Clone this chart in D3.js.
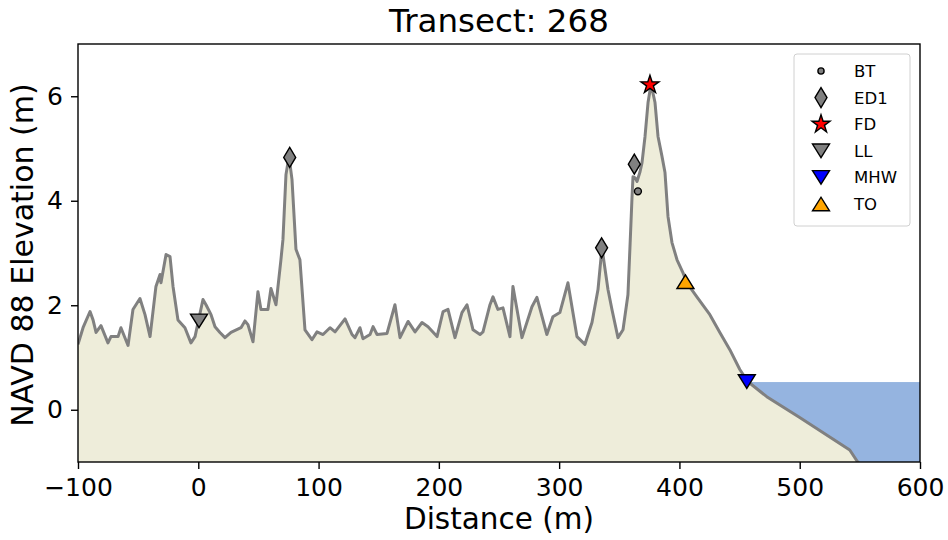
<!DOCTYPE html>
<html><head><meta charset="utf-8">
<script src="https://cdn.jsdelivr.net/npm/d3@7"></script>
<style>body{margin:0;background:#fff;} text{font-family:"DejaVu Sans",sans-serif;}</style>
</head><body><svg id="c" width="948" height="540"></svg>
<script>
const title = "Transect: 268";
const xTicks = [-100, 0, 100, 200, 300, 400, 500, 600];
const yTicks = [0, 2, 4, 6];
const distance = [-100,-95.8,-90,-87.5,-85,-80.9,-75.1,-72.6,-66.7,-64.3,-58.4,-54.3,-48.5,-44.3,-40.1,-35.2,-31.8,-31,-26.8,-23.5,-21,-16.9,-11.1,-6.1,-2.7,3.9,6.4,10.6,13.9,18,22.2,27.2,35.5,38.8,41.3,45.5,49.6,52.1,57.9,60.4,64.6,68.7,70.4,72.9,75.4,77.9,81.2,84.5,88.7,94.5,98.7,103.7,109.5,113.7,122,127.8,130.3,134.4,136.9,142.8,145.3,148.6,156.9,163.5,167.7,174.4,180.2,186,191,198.5,203.5,207.6,213.4,219.2,223.4,228.4,234.2,236.7,242.5,245,249.1,253.3,259.1,261.6,269.1,277.4,281.5,289.8,294.8,300.6,307.3,314.8,321.4,327.3,332.3,335.6,340.6,343.9,348.9,353.1,357.2,358.8,360.5,361.4,363.1,364.8,367.3,368.9,371.4,373.9,376.4,379.7,382.2,385.5,388,390.5,393.8,398,403,406.2,414.5,425.3,433.6,441.9,450.2,456.8,472.6,500,541.6,548.2,600];
const elevation = [1.25,1.57,1.88,1.72,1.48,1.61,1.28,1.4,1.4,1.57,1.23,1.92,2.13,1.82,1.4,2.36,2.59,2.43,2.97,2.93,2.36,1.72,1.57,1.28,1.4,2.11,2.01,1.82,1.59,1.48,1.38,1.48,1.57,1.7,1.63,1.3,2.26,1.92,1.92,2.32,2.01,2.87,3.26,4.5,4.85,4.41,3.07,2.87,1.53,1.34,1.49,1.44,1.57,1.49,1.74,1.44,1.38,1.57,1.36,1.44,1.59,1.44,1.46,2.01,1.38,1.69,1.49,1.67,1.59,1.4,1.88,1.92,1.38,1.86,2.01,1.53,1.44,1.49,2.01,2.16,1.92,1.95,1.4,2.36,1.38,1.97,2.15,1.44,1.78,1.86,2.43,1.4,1.25,1.67,2.3,3.1,2.3,1.92,1.38,1.53,2.2,3.07,4.02,4.46,4.44,4.37,4.56,4.73,5.23,5.88,6.23,5.88,5.23,4.85,4.54,3.7,3.2,2.87,2.62,2.43,2.16,1.82,1.48,1.15,0.77,0.54,0.25,-0.15,-0.77,-1.0,-2.0];
const mhwLevel = 0.53;
const markerNames = ["BT","ED1","FD","LL","MHW","TO"];
const btX = [365.5], btY = [4.18];
const ed1X = [76, 335.3, 362.5], ed1Y = [4.83, 3.1, 4.7];
const fdX = [375.5], fdY = [6.22];
const llX = [0.6], llY = [1.7];
const mhwX = [456], mhwY = [0.54];
const toX = [405], toY = [2.45];

const svg = d3.select("#c");
const m = {l:78, r:920, t:44, b:462};
const x = d3.scaleLinear().domain([-100,600]).range([m.l,m.r]);
const y = d3.scaleLinear().domain([-1,7]).range([m.b,m.t]);
const pts = distance.map((d,i)=>[d,elevation[i]]);

svg.append("clipPath").attr("id","clip").append("rect")
  .attr("x",m.l).attr("y",m.t).attr("width",m.r-m.l).attr("height",m.b-m.t);
const g = svg.append("g").attr("clip-path","url(#clip)");

// water: from the crossing point of the profile with MHW to the right edge
let cross = 600;
for (let i=1;i<pts.length;i++){
  if (pts[i-1][1] >= mhwLevel && pts[i][1] < mhwLevel){
    const t = (pts[i-1][1]-mhwLevel)/(pts[i-1][1]-pts[i][1]);
    cross = pts[i-1][0] + t*(pts[i][0]-pts[i-1][0]); break;
  }
}
g.append("rect").attr("x",x(cross)).attr("y",y(mhwLevel))
  .attr("width",x(600)-x(cross)).attr("height",y(-1)-y(mhwLevel)).attr("fill","#95b4e0");

g.append("path").datum(pts)
  .attr("d", d3.area().x(d=>x(d[0])).y0(y(-1)+5).y1(d=>y(d[1])))
  .attr("fill","#eeedda");
g.append("path").datum(pts)
  .attr("d", d3.line().x(d=>x(d[0])).y(d=>y(d[1])))
  .attr("fill","none").attr("stroke","#808080").attr("stroke-width",3).attr("stroke-linejoin","round");

// axes
const xa = svg.append("g").attr("transform",`translate(0,${m.b})`)
  .call(d3.axisBottom(x).tickValues(xTicks).tickSizeOuter(0).tickSize(7).tickPadding(8).tickFormat(d=>String(d).replace("-","\u2212")));
const ya = svg.append("g").attr("transform",`translate(${m.l},0)`)
  .call(d3.axisLeft(y).tickValues(yTicks).tickSizeOuter(0).tickSize(7).tickPadding(8));
[xa,ya].forEach(a=>{a.select(".domain").remove(); a.selectAll("line").attr("stroke","#000").attr("stroke-width",1.4);
  a.selectAll("text").attr("font-size",25).attr("fill","#000").attr("font-family","DejaVu Sans");});
xa.selectAll("text").attr("dy","0.76em");
svg.append("rect").attr("x",m.l).attr("y",m.t).attr("width",m.r-m.l).attr("height",m.b-m.t)
  .attr("fill","none").attr("stroke","#000").attr("stroke-width",1.4);

// symbols
function tri(s,down){ const h=s*0.8, w=s/2; return down?`M${-w},${-h/2}L${w},${-h/2}L0,${h/2}Z`:`M${-w},${h/2}L${w},${h/2}L0,${-h/2}Z`; }
function diamond(w,h){ return `M0,${-h/2}L${w/2},0L0,${h/2}L${-w/2},0Z`; }
const starPath = d3.symbol(d3.symbolStar, 100)();
const symbolDefs = {
  BT:{path:d3.symbol(d3.symbolCircle, 38)(), fill:"#808080", xs:btX, ys:btY},
  ED1:{path:diamond(12,20), fill:"#808080", xs:ed1X, ys:ed1Y},
  FD:{path:starPath, fill:"#ff0000", xs:fdX, ys:fdY},
  LL:{path:tri(17,true), fill:"#808080", xs:llX, ys:llY},
  MHW:{path:tri(17,true), fill:"#0000ff", xs:mhwX, ys:mhwY},
  TO:{path:tri(17,false), fill:"#ffa500", xs:toX, ys:toY}
};
markerNames.forEach(n=>{
  const s = symbolDefs[n];
  svg.append("g").selectAll("path").data(s.xs.map((v,i)=>[v,s.ys[i]])).join("path")
    .attr("d",s.path).attr("transform",d=>`translate(${x(d[0])},${y(d[1])})`)
    .attr("fill",s.fill).attr("stroke","#000").attr("stroke-width",1.4).attr("stroke-linejoin","miter");
});

// legend
const lg = svg.append("g");
lg.append("rect").attr("x",794).attr("y",54).attr("width",116).attr("height",172).attr("rx",3)
  .attr("fill","#fff").attr("fill-opacity",0.8).attr("stroke","#d0d0d0").attr("stroke-width",1);
markerNames.forEach((n,i)=>{
  const s = symbolDefs[n]; const yy = 71 + i*26.6;
  const p = n==="BT" ? d3.symbol(d3.symbolCircle, 30)() : s.path;
  lg.append("path").attr("d",p).attr("transform",`translate(821,${yy})`)
    .attr("fill",s.fill).attr("stroke","#000").attr("stroke-width",1.4);
  lg.append("text").attr("x",854).attr("y",yy).attr("dy","0.36em").attr("font-size",16.5).text(n);
});

// labels
svg.append("text").attr("x",(m.l+m.r)/2).attr("y",32).attr("text-anchor","middle").attr("font-size",32.5).text(title);
svg.append("text").attr("x",(m.l+m.r)/2).attr("y",529).attr("text-anchor","middle").attr("font-size",29.5).text("Distance (m)");
svg.append("text").attr("transform",`translate(33,${(m.t+m.b)/2+2}) rotate(-90)`).attr("text-anchor","middle").attr("font-size",30).text("NAVD 88 Elevation (m)");
</script></body></html>
